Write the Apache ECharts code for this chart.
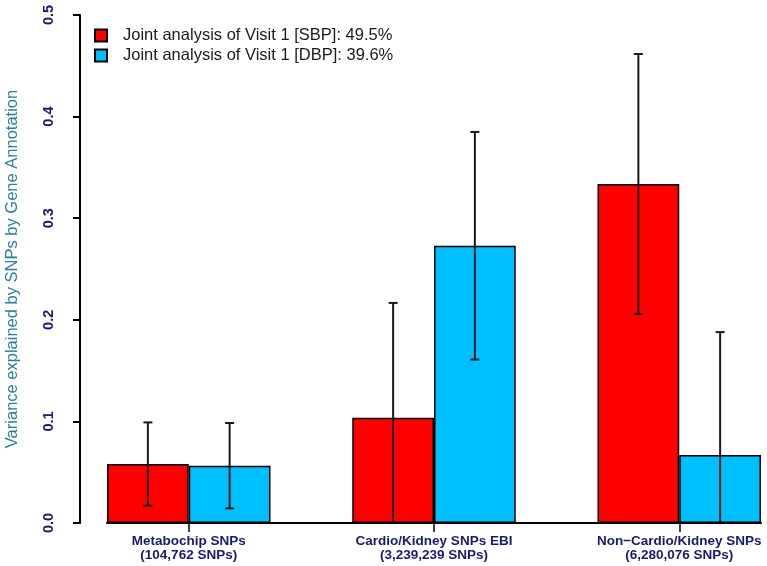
<!DOCTYPE html>
<html>
<head>
<meta charset="utf-8">
<title>Variance explained by SNPs by Gene Annotation</title>
<script src="https://cdn.jsdelivr.net/npm/echarts@6/dist/echarts.min.js"></script>
<style>
  html, body { margin: 0; padding: 0; background: #fff; }
  #chart { width: 767px; height: 566px; }
</style>
</head>
<body>
<div id="chart"></div>
<script>
// groups along the x axis (bar units, R barplot style: space = c(0, 1))
const groupPos = [2, 5, 8]
const groupNames = ['Metabochip SNPs', 'Cardio/Kidney SNPs EBI', 'Non\u2212Cardio/Kidney SNPs']
const groupCounts = ['(104,762 SNPs)', '(3,239,239 SNPs)', '(6,280,076 SNPs)']

const sbpName = 'Joint analysis of Visit 1 [SBP]: 49.5%'
const dbpName = 'Joint analysis of Visit 1 [DBP]: 39.6%'

// variance explained and half width of the error bars
const sbpValues = [0.058, 0.1036, 0.3336]
const sbpErr = [0.041, 0.113, 0.128]
const dbpValues = [0.0564, 0.2729, 0.0669]
const dbpErr = [0.042, 0.112, 0.121]

const navy = '#191970'
const font = 'Liberation Sans, Arial, Helvetica, sans-serif'

const chart = echarts.init(document.getElementById('chart'))

function errorBars() {
  return function(params, api) {
    const x = api.value(0)
    const mean = api.value(1)
    const e = api.value(2)
    const top = api.coord([x, mean + e])
    const bot = api.coord([x, mean - e])
    const cap = 4.5
    const style = { stroke: '#1a1a1a', lineWidth: 2 }
    return {
      type: 'group',
      children: [
        { type: 'line', shape: { x1: top[0], y1: top[1], x2: bot[0], y2: bot[1] }, style },
        { type: 'line', shape: { x1: top[0] - cap, y1: top[1], x2: top[0] + cap, y2: top[1] }, style },
        { type: 'line', shape: { x1: bot[0] - cap, y1: bot[1], x2: bot[0] + cap, y2: bot[1] }, style }
      ]
    }
  }
}

const option = {
  animation: false,
  backgroundColor: '#fff',
  textStyle: { fontFamily: font },
  grid: { left: 107, right: 6, top: 15, bottom: 43, containLabel: false, outerBoundsMode: 'none' },
  legend: {
    data: [sbpName, dbpName],
    orient: 'vertical',
    left: 89,
    top: 22,
    itemWidth: 12,
    itemHeight: 12,
    itemGap: 3,
    icon: 'rect',
    textStyle: { fontSize: 16.5, color: '#1a1a1a', fontFamily: font, padding: [0, 0, 0, 11] }
  },
  xAxis: {
    type: 'value',
    min: 1,
    max: 9,
    splitLine: { show: false },
    axisLine: { show: true, lineStyle: { color: '#000', width: 2 } },
    axisTick: { show: true, customValues: groupPos, length: 9, lineStyle: { color: '#000', width: 1.5 } },
    axisLabel: {
      customValues: groupPos,
      margin: 11,
      fontSize: 13.5,
      fontWeight: 'bold',
      lineHeight: 14,
      color: navy,
      fontFamily: font,
      hideOverlap: false,
      formatter(v) {
        const i = groupPos.indexOf(v)
        return groupNames[i] + '\n' + groupCounts[i]
      }
    }
  },
  yAxis: {
    type: 'value',
    min: 0,
    max: 0.5,
    interval: 0.1,
    offset: 27,
    name: 'Variance explained by SNPs by Gene Annotation',
    nameLocation: 'middle',
    nameGap: 59,
    nameTextStyle: { fontSize: 16.5, color: '#2a7f9e', fontFamily: font },
    splitLine: { show: false },
    axisLine: { show: true, lineStyle: { color: '#000', width: 2 } },
    axisTick: { show: true, length: 7, lineStyle: { color: '#000', width: 2 } },
    axisLabel: {
      rotate: 90,
      margin: 24,
      fontSize: 14.5,
      fontWeight: 'bold',
      color: navy,
      fontFamily: font,
      formatter: (v) => v.toFixed(1)
    }
  },
  series: [
    {
      name: sbpName,
      type: 'bar',
      barWidth: 81.75,
      barGap: '0%',
      itemStyle: { color: '#ff0000', borderColor: '#000', borderWidth: 1.5 },
      data: groupPos.map((x, i) => [x, sbpValues[i]])
    },
    {
      name: dbpName,
      type: 'bar',
      barWidth: 81.75,
      barGap: '0%',
      itemStyle: { color: '#00bfff', borderColor: '#000', borderWidth: 1.5 },
      data: groupPos.map((x, i) => [x, dbpValues[i]])
    },
    {
      type: 'custom',
      clip: true,
      z: 10,
      renderItem: errorBars(),
      encode: { x: 0, y: 1 },
      data: groupPos.map((x, i) => [x - 0.5, sbpValues[i], sbpErr[i]])
    },
    {
      type: 'custom',
      clip: true,
      z: 10,
      renderItem: errorBars(),
      encode: { x: 0, y: 1 },
      data: groupPos.map((x, i) => [x + 0.5, dbpValues[i], dbpErr[i]])
    }
  ]
}

chart.setOption(option)
</script>
</body>
</html>
